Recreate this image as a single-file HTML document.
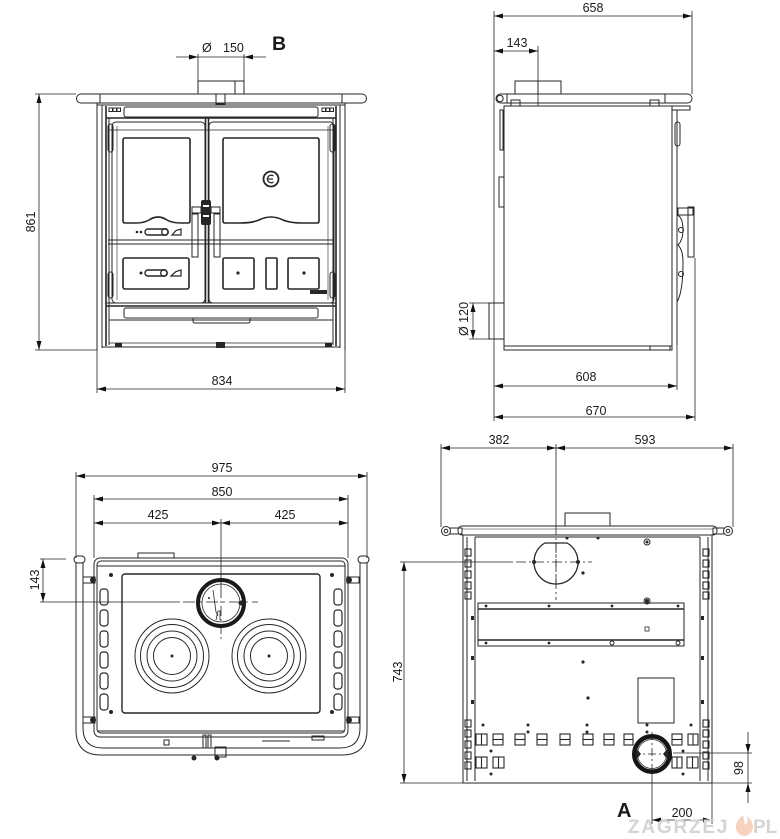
<!DOCTYPE html>
<html><head><meta charset="utf-8"><style>
html,body{margin:0;padding:0;background:#fff;}
svg{display:block;}
text{font-family:"Liberation Sans",Arial,sans-serif;fill:#1a1a1a;}
</style></head><body>
<svg width="780" height="839" viewBox="0 0 780 839" xmlns="http://www.w3.org/2000/svg">
<defs>
<marker id="ar" viewBox="0 0 9 5" refX="9" refY="2.5" markerWidth="9" markerHeight="5" markerUnits="userSpaceOnUse" orient="auto-start-reverse"><path d="M0,0L9,2.5L0,5z" fill="#111"/></marker>
</defs>
<rect width="780" height="839" fill="#fff"/>

<!-- ================= DIMENSIONS ================= -->
<g stroke="#222" stroke-width="0.8" fill="none">
 <line x1="176" y1="57" x2="266" y2="57"/>
 <line x1="198" y1="54" x2="198" y2="81"/>
 <line x1="244" y1="54" x2="244" y2="81"/>
 <line x1="39" y1="94" x2="39" y2="350" marker-start="url(#ar)" marker-end="url(#ar)"/>
 <line x1="35" y1="94" x2="76" y2="94"/>
 <line x1="35" y1="350" x2="97" y2="350"/>
 <line x1="97" y1="389" x2="345" y2="389" marker-start="url(#ar)" marker-end="url(#ar)"/>
 <line x1="97" y1="350" x2="97" y2="393"/>
 <line x1="345" y1="350" x2="345" y2="393"/>

 <line x1="494" y1="16" x2="692" y2="16" marker-start="url(#ar)" marker-end="url(#ar)"/>
 <line x1="494" y1="11" x2="494" y2="421"/>
 <line x1="692" y1="11" x2="692" y2="94"/>
 <line x1="494" y1="51" x2="538" y2="51" marker-start="url(#ar)" marker-end="url(#ar)"/>
 <line x1="538" y1="46" x2="538" y2="106"/>
 <line x1="473" y1="303" x2="473" y2="339" marker-start="url(#ar)" marker-end="url(#ar)"/>
 <line x1="469" y1="303" x2="489" y2="303"/>
 <line x1="469" y1="339" x2="489" y2="339"/>
 <line x1="494" y1="386" x2="677" y2="386" marker-start="url(#ar)" marker-end="url(#ar)"/>
 <line x1="677" y1="110" x2="677" y2="390"/>
 <line x1="494" y1="417" x2="695" y2="417" marker-start="url(#ar)" marker-end="url(#ar)"/>
 <line x1="695" y1="258" x2="695" y2="421"/>

 <line x1="76" y1="476" x2="367" y2="476" marker-start="url(#ar)" marker-end="url(#ar)"/>
 <line x1="76" y1="472" x2="76" y2="558"/>
 <line x1="367" y1="472" x2="367" y2="558"/>
 <line x1="94" y1="499" x2="348" y2="499" marker-start="url(#ar)" marker-end="url(#ar)"/>
 <line x1="94" y1="495" x2="94" y2="558"/>
 <line x1="348" y1="495" x2="348" y2="558"/>
 <line x1="94" y1="523" x2="221" y2="523" marker-start="url(#ar)" marker-end="url(#ar)"/>
 <line x1="221" y1="523" x2="348" y2="523" marker-start="url(#ar)" marker-end="url(#ar)"/>
 <line x1="221" y1="519" x2="221" y2="588"/>
 <line x1="221" y1="588" x2="221" y2="640" stroke-dasharray="10,3,2,3"/>
 <line x1="43" y1="559" x2="43" y2="602" marker-start="url(#ar)" marker-end="url(#ar)"/>
 <line x1="40" y1="559" x2="66" y2="559"/>
 <line x1="40" y1="602" x2="180" y2="602"/>
 <line x1="183" y1="602" x2="258" y2="602" stroke-dasharray="12,4,3,4"/>

 <line x1="441" y1="448" x2="556" y2="448" marker-start="url(#ar)" marker-end="url(#ar)"/>
 <line x1="556" y1="448" x2="733" y2="448" marker-start="url(#ar)" marker-end="url(#ar)"/>
 <line x1="441" y1="444" x2="441" y2="527"/>
 <line x1="733" y1="444" x2="733" y2="527"/>
 <line x1="556" y1="444" x2="556" y2="525"/>
 <line x1="556" y1="525" x2="556" y2="600" stroke-dasharray="10,3,2,3"/>
 <line x1="404" y1="562" x2="404" y2="783" marker-start="url(#ar)" marker-end="url(#ar)"/>
 <line x1="400" y1="562" x2="513" y2="562"/>
 <line x1="516" y1="562" x2="592" y2="562" stroke-dasharray="10,3,2,3"/>
 <line x1="400" y1="783" x2="463" y2="783"/>
 <line x1="748" y1="732" x2="748" y2="803"/>
 <line x1="673" y1="753" x2="752" y2="753"/>
 <line x1="712" y1="783" x2="752" y2="783"/>
 <line x1="652" y1="820" x2="712" y2="820" marker-start="url(#ar)" marker-end="url(#ar)"/>
 <line x1="652" y1="772" x2="652" y2="824"/>
 <line x1="712" y1="783" x2="712" y2="824"/>
 <line x1="652" y1="732" x2="652" y2="772" stroke-dasharray="8,3,2,3"/>
 <line x1="632" y1="754" x2="672" y2="754" stroke-dasharray="8,3,2,3"/>
</g>
<path d="M189,54.5L198,57L189,59.5z M253,54.5L244,57L253,59.5z M745.5,744L748,753L750.5,744z M745.5,792L748,783L750.5,792z" fill="#111"/>

<!-- ================= FRONT VIEW ================= -->
<g fill="none" stroke="#262626" stroke-width="1">
 <rect x="198" y="81" width="46" height="13"/>
 <line x1="235" y1="81" x2="235" y2="94"/>
 <rect x="76.5" y="94" width="290" height="9" rx="4.5"/>
 <line x1="100" y1="94" x2="100" y2="103"/>
 <line x1="342" y1="94" x2="342" y2="103"/>
 <rect x="216" y="94" width="9" height="10"/>
 <line x1="97" y1="105" x2="345" y2="105"/>
 <line x1="97" y1="103" x2="97" y2="350"/>
 <line x1="345" y1="103" x2="345" y2="350"/>
 <line x1="102" y1="105" x2="102" y2="348"/>
 <line x1="340" y1="105" x2="340" y2="348"/>
 <line x1="106" y1="106" x2="106" y2="346" stroke-width="1.6"/>
 <line x1="336" y1="106" x2="336" y2="346" stroke-width="1.6"/>
 <line x1="102" y1="347" x2="340" y2="347"/>
 <rect x="109" y="108" width="3.5" height="3.5"/><rect x="113" y="108" width="3.5" height="3.5"/><rect x="117" y="108" width="3.5" height="3.5"/>
 <rect x="322" y="108" width="3.5" height="3.5"/><rect x="326" y="108" width="3.5" height="3.5"/><rect x="330" y="108" width="3.5" height="3.5"/>
 <rect x="124" y="107" width="194" height="10" rx="2"/>
 <line x1="106" y1="118" x2="336" y2="118" stroke-width="1.6"/>
 <line x1="108" y1="130" x2="334" y2="130" stroke-width="0.7"/>
 <line x1="109" y1="118" x2="109" y2="345"/>
 <line x1="333" y1="118" x2="333" y2="345"/>
 <rect x="112" y="122" width="93" height="181" rx="4"/>
 <rect x="209" y="122" width="125" height="181" rx="4"/>
 <line x1="117" y1="126" x2="117" y2="300" stroke-width="0.6"/>
 <line x1="328" y1="126" x2="328" y2="300" stroke-width="0.6"/>
 <line x1="205.5" y1="118" x2="205.5" y2="303" stroke-width="1.6"/>
 <line x1="208.5" y1="118" x2="208.5" y2="303" stroke-width="1.6"/>
 <rect x="108" y="124" width="5" height="28" rx="2.5"/>
 <rect x="330" y="124" width="5" height="28" rx="2.5"/>
 <rect x="108" y="272" width="5" height="26" rx="2.5"/>
 <rect x="330" y="272" width="5" height="26" rx="2.5"/>
 <path d="M125,138 H188 Q190,138 190,140 V221 Q190,223 188,223 H181 Q172,223 167,220 Q158,214 149,220 Q144,223 136,223 H125 Q123,223 123,221 V140 Q123,138 125,138 Z" stroke-width="1.6"/>
 <path d="M225,138 H317 Q319,138 319,140 V221 Q319,223 317,223 H302 Q290,223 283,220 Q271,214 259,220 Q252,223 240,223 H225 Q223,223 223,221 V140 Q223,138 225,138 Z" stroke-width="1.6"/>
 <circle cx="271" cy="179" r="7.5" stroke-width="1.8"/>
 <path d="M273.5,176 A3.8,3.8 0 1 0 273.5,182" stroke-width="1.3"/>
 <line x1="267.5" y1="179" x2="273" y2="179" stroke-width="1.2"/>
 <rect x="145" y="229" width="23" height="6" rx="3" stroke-width="1.4"/>
 <circle cx="165" cy="232" r="3.3" stroke-width="1.3"/>
 <path d="M172,235 H181 V229 L176,230.5 Z" stroke-width="1.2"/>
 <line x1="108" y1="240" x2="334" y2="240"/>
 <line x1="108" y1="244" x2="334" y2="244"/>
 <rect x="192" y="214" width="6" height="43"/>
 <rect x="214" y="214" width="6" height="43"/>
 <rect x="192" y="207" width="9" height="6"/>
 <rect x="211" y="207" width="9" height="6"/>
 <rect x="123" y="258" width="66" height="31" rx="2" stroke-width="1.6"/>
 <rect x="145" y="270" width="22" height="6" rx="3" stroke-width="1.4"/>
 <circle cx="164" cy="273" r="3.3" stroke-width="1.3"/>
 <path d="M171,276 H181 V270 L176,271.5 Z" stroke-width="1.2"/>
 <rect x="223" y="258" width="31" height="31" rx="1.5" stroke-width="1.6"/>
 <rect x="266" y="258" width="11" height="31" rx="1" stroke-width="1.6"/>
 <rect x="288" y="258" width="31" height="31" rx="1.5" stroke-width="1.6"/>
 <line x1="106" y1="303" x2="336" y2="303"/>
 <line x1="106" y1="306" x2="336" y2="306" stroke-width="1.4"/>
 <rect x="124" y="308" width="194" height="10" rx="2"/>
 <path d="M193,318 V321 Q193,323 195,323 H248 Q250,323 250,321 V318"/>
 <line x1="109" y1="320" x2="333" y2="320"/>
 <line x1="109" y1="343" x2="333" y2="343" stroke-width="0.7"/>
</g>
<g fill="#262626">
 <rect x="201" y="200" width="10" height="25" rx="2"/>
 <circle cx="137" cy="232" r="1.3"/><circle cx="141" cy="232" r="1.3"/>
 <circle cx="141" cy="273" r="1.5"/>
 <circle cx="238" cy="273" r="1.6"/><circle cx="304" cy="273" r="1.6"/>
 <rect x="310" y="290" width="17" height="4"/>
 <rect x="115" y="343" width="7" height="4"/>
 <rect x="216" y="342" width="9" height="6"/>
 <rect x="325" y="343" width="7" height="4"/>
</g>
<rect x="203" y="205" width="6" height="2" fill="#fff"/>
<rect x="203" y="215" width="6" height="2" fill="#fff"/>

<!-- ================= SIDE VIEW ================= -->
<g fill="none" stroke="#262626" stroke-width="1">
 <rect x="515" y="81" width="46" height="13"/>
 <line x1="538" y1="81" x2="538" y2="94"/>
 <rect x="496" y="94" width="196" height="9" rx="4.5"/>
 <circle cx="500" cy="98.5" r="3.2"/>
 <line x1="507" y1="94" x2="507" y2="103"/>
 <line x1="665" y1="94" x2="665" y2="103"/>
 <rect x="511" y="100" width="9" height="6"/>
 <rect x="650" y="100" width="9" height="6"/>
 <rect x="672" y="106" width="18" height="4"/>
 <rect x="504" y="106" width="168" height="244"/>
 <line x1="504" y1="346" x2="672" y2="346"/>
 <rect x="650" y="346" width="20" height="4"/>
 <rect x="500" y="110" width="3" height="40"/>
 <rect x="499" y="177" width="5" height="30"/>
 <line x1="677" y1="110" x2="677" y2="345"/>
 <rect x="675" y="122" width="5" height="24" rx="2.5"/>
 <rect x="688" y="207" width="6" height="50"/>
 <rect x="678" y="208" width="15" height="7"/>
 <circle cx="681" cy="230" r="2.5"/>
 <circle cx="681" cy="274" r="2.5"/>
 <path d="M677,215 Q683,217 683,230 Q683,240 678,245 Q683,250 683,262 Q683,292 677,302"/>
 <rect x="489" y="303" width="15" height="36"/>
</g>

<!-- ================= TOP VIEW ================= -->
<g fill="none" stroke="#262626" stroke-width="1">
 <path d="M76,562 V730 Q76,755 101,755 H342 Q367,755 367,730 V562"/>
 <path d="M83,562 V728 Q83,748 103,748 H340 Q360,748 360,728 V562"/>
 <rect x="74" y="556" width="11" height="7" rx="3.5"/>
 <rect x="358" y="556" width="11" height="7" rx="3.5"/>
 <rect x="138" y="553" width="36" height="5"/>
 <rect x="94" y="558" width="254" height="179" rx="6"/>
 <rect x="97" y="561" width="248" height="172" rx="4"/>
 <line x1="97" y1="566" x2="345" y2="566"/>
 <line x1="97" y1="731" x2="345" y2="731"/>
 <rect x="122" y="574" width="198" height="139" rx="3" stroke-width="1.4"/>
 <circle cx="172" cy="656" r="37"/><circle cx="172" cy="656" r="31.5"/><circle cx="172" cy="656" r="25"/><circle cx="172" cy="656" r="18.5"/>
 <circle cx="269" cy="656" r="37"/><circle cx="269" cy="656" r="31.5"/><circle cx="269" cy="656" r="25"/><circle cx="269" cy="656" r="18.5"/>
 <g stroke-width="1.2">
 <rect x="100" y="589" width="8" height="16" rx="3"/><rect x="100" y="610" width="8" height="16" rx="3"/><rect x="100" y="631" width="8" height="16" rx="3"/>
 <rect x="100" y="652" width="8" height="16" rx="3"/><rect x="100" y="673" width="8" height="16" rx="3"/><rect x="100" y="694" width="8" height="16" rx="3"/>
 <rect x="334" y="589" width="8" height="16" rx="3"/><rect x="334" y="610" width="8" height="16" rx="3"/><rect x="334" y="631" width="8" height="16" rx="3"/>
 <rect x="334" y="652" width="8" height="16" rx="3"/><rect x="334" y="673" width="8" height="16" rx="3"/><rect x="334" y="694" width="8" height="16" rx="3"/>
 </g>
 <rect x="83" y="577" width="12" height="6"/>
 <rect x="83" y="717" width="12" height="6"/>
 <rect x="347" y="577" width="12" height="6"/>
 <rect x="347" y="717" width="12" height="6"/>
 <circle cx="221" cy="603" r="23" stroke="#1a1a1a" stroke-width="4"/>
 <circle cx="221" cy="603" r="19" stroke-width="0.8"/>
 <path d="M213,590 L216,612 L218,616" stroke-width="0.8"/>
 <path d="M216,620 L218,611 L220,611 L220,620" stroke-width="0.8"/>
 <rect x="164" y="740" width="5" height="5"/>
 <rect x="203" y="735" width="3" height="13"/>
 <rect x="208" y="735" width="3" height="13"/>
 <rect x="215" y="747" width="11" height="10"/>
 <line x1="262" y1="741" x2="290" y2="741"/>
 <rect x="312" y="736" width="12" height="4"/>
</g>
<g fill="#262626">
 <circle cx="111" cy="575" r="2"/><circle cx="332" cy="575" r="2"/><circle cx="111" cy="712" r="2"/><circle cx="332" cy="712" r="2"/>
 <circle cx="172" cy="656" r="1.5"/><circle cx="269" cy="656" r="1.5"/>
 <circle cx="93" cy="580" r="3"/><circle cx="93" cy="720" r="3"/><circle cx="349" cy="580" r="3"/><circle cx="349" cy="720" r="3"/>
 <circle cx="194" cy="758" r="2.5"/><circle cx="217" cy="758" r="2.5"/>
 <circle cx="241" cy="603" r="2.5"/><circle cx="209" cy="598" r="1"/>
</g>

<!-- ================= REAR VIEW ================= -->
<g fill="none" stroke="#262626" stroke-width="1">
 <rect x="565" y="513" width="45" height="13"/>
 <circle cx="446" cy="531" r="4.5"/><circle cx="446" cy="531" r="1.8"/>
 <circle cx="728" cy="531" r="4.5"/><circle cx="728" cy="531" r="1.8"/>
 <path d="M450,528 H462 V534 H450"/>
 <path d="M724,528 H713 V534 H724"/>
 <rect x="458" y="526" width="259" height="9" rx="4"/>
 <line x1="462" y1="529" x2="713" y2="529" stroke-width="0.6"/>
 <rect x="463" y="535" width="249" height="248"/>
 <line x1="467" y1="537" x2="467" y2="781"/>
 <line x1="475" y1="537" x2="475" y2="781"/>
 <line x1="700" y1="537" x2="700" y2="781"/>
 <line x1="708" y1="537" x2="708" y2="781"/>
 <line x1="475" y1="537" x2="700" y2="537"/>
 <g stroke-width="1.1">
 <rect x="465" y="549" width="6" height="7"/><rect x="465" y="560" width="6" height="7"/><rect x="465" y="571" width="6" height="7"/><rect x="465" y="582" width="6" height="7"/><rect x="465" y="592" width="6" height="7"/>
 <rect x="465" y="720" width="6" height="7"/><rect x="465" y="730" width="6" height="7"/><rect x="465" y="741" width="6" height="7"/><rect x="465" y="752" width="6" height="7"/><rect x="465" y="762" width="6" height="7"/>
 <rect x="703" y="549" width="6" height="7"/><rect x="703" y="560" width="6" height="7"/><rect x="703" y="571" width="6" height="7"/><rect x="703" y="582" width="6" height="7"/><rect x="703" y="592" width="6" height="7"/>
 <rect x="703" y="720" width="6" height="7"/><rect x="703" y="730" width="6" height="7"/><rect x="703" y="741" width="6" height="7"/><rect x="703" y="752" width="6" height="7"/><rect x="703" y="762" width="6" height="7"/>
 </g>
 <path d="M544.9,543 H567.1 A22,22 0 1 1 544.9,543 Z" stroke-width="1.3"/>
 <line x1="556" y1="543" x2="556" y2="584" stroke-width="0.8" stroke-dasharray="8,3,2,3"/>
 <rect x="478" y="603" width="206" height="43"/>
 <line x1="478" y1="609" x2="684" y2="609" stroke-width="1.6"/>
 <line x1="478" y1="640" x2="684" y2="640" stroke-width="1.6"/>
 <rect x="645" y="627" width="4" height="4" stroke-width="0.8"/>
 <circle cx="612" cy="643" r="2"/><circle cx="678" cy="643" r="2"/>
 <circle cx="647" cy="542" r="3"/>
 <circle cx="647" cy="601" r="3"/>
 <rect x="638" y="678" width="36" height="45"/>
 <g stroke-width="1.1">
 <rect x="476" y="734" width="11" height="11"/><line x1="481.5" y1="734" x2="481.5" y2="745"/>
 <rect x="493" y="734" width="10" height="11"/><line x1="493" y1="739.5" x2="503" y2="739.5"/>
 <rect x="515" y="734" width="10" height="11"/><line x1="515" y1="739.5" x2="525" y2="739.5"/>
 <rect x="537" y="734" width="10" height="11"/><line x1="537" y1="739.5" x2="547" y2="739.5"/>
 <rect x="560" y="734" width="10" height="11"/><line x1="560" y1="739.5" x2="570" y2="739.5"/>
 <rect x="583" y="734" width="10" height="11"/><line x1="583" y1="739.5" x2="593" y2="739.5"/>
 <rect x="604" y="734" width="10" height="11"/><line x1="604" y1="739.5" x2="614" y2="739.5"/>
 <rect x="624" y="734" width="9" height="11"/><line x1="624" y1="739.5" x2="633" y2="739.5"/>
 <rect x="672" y="734" width="10" height="11"/><line x1="672" y1="739.5" x2="682" y2="739.5"/>
 <rect x="688" y="734" width="10" height="11"/><line x1="693" y1="734" x2="693" y2="745"/>
 <rect x="476" y="757" width="11" height="11"/><line x1="481.5" y1="757" x2="481.5" y2="768"/>
 <rect x="493" y="757" width="11" height="11"/><line x1="498.5" y1="757" x2="498.5" y2="768"/>
 <rect x="672" y="757" width="10" height="11"/><line x1="677" y1="757" x2="677" y2="768"/>
 <rect x="687" y="757" width="11" height="11"/><line x1="692.5" y1="757" x2="692.5" y2="768"/>
 </g>
 <circle cx="652" cy="754" r="17.7" stroke="#151515" stroke-width="4.6"/>
 <circle cx="652" cy="754" r="14.5" stroke-width="0.7"/>
</g>
<g fill="#262626">
 <circle cx="567" cy="538" r="1.5"/><circle cx="598" cy="538" r="1.5"/>
 <circle cx="534" cy="562" r="2"/><circle cx="578" cy="562" r="2"/><circle cx="583" cy="573" r="1.6"/>
 <circle cx="647" cy="542" r="1.5"/><circle cx="647" cy="601" r="2"/>
 <circle cx="486" cy="606" r="1.4"/><circle cx="549" cy="606" r="1.4"/><circle cx="612" cy="606" r="1.4"/><circle cx="678" cy="606" r="1.4"/>
 <circle cx="486" cy="643" r="1.4"/><circle cx="549" cy="643" r="1.4"/>
 <circle cx="583" cy="662" r="1.6"/><circle cx="588" cy="698" r="1.6"/>
 <circle cx="483" cy="725" r="1.5"/><circle cx="528" cy="725" r="1.5"/><circle cx="587" cy="725" r="1.5"/><circle cx="647" cy="725" r="1.5"/><circle cx="691" cy="725" r="1.5"/>
 <circle cx="528" cy="732" r="1.5"/><circle cx="587" cy="732" r="1.5"/><circle cx="647" cy="732" r="1.5"/>
 <circle cx="491" cy="751" r="1.5"/><circle cx="491" cy="774" r="1.5"/><circle cx="683" cy="751" r="1.5"/><circle cx="683" cy="774" r="1.5"/>
 <rect x="471" y="616" width="3" height="4"/><rect x="471" y="656" width="3" height="4"/><rect x="471" y="700" width="3" height="4"/>
 <rect x="701" y="616" width="3" height="4"/><rect x="701" y="656" width="3" height="4"/><rect x="701" y="700" width="3" height="4"/>
 <path d="M636,748 L641,754 L636,760 Z"/>
 <path d="M668,748 L663,754 L668,760 Z"/>
</g>

<!-- ================= TEXT ================= -->
<g font-size="12.5">
 <text x="202" y="52">Ø</text>
 <text x="223" y="52">150</text>
 <text transform="translate(35,222) rotate(-90)" text-anchor="middle">861</text>
 <text x="222" y="385" text-anchor="middle">834</text>
 <text x="593" y="12" text-anchor="middle">658</text>
 <text x="517" y="47" text-anchor="middle">143</text>
 <text transform="translate(468,319) rotate(-90)" text-anchor="middle">Ø  120</text>
 <text x="586" y="381" text-anchor="middle">608</text>
 <text x="596" y="415" text-anchor="middle">670</text>
 <text x="222" y="472" text-anchor="middle">975</text>
 <text x="222" y="496" text-anchor="middle">850</text>
 <text x="158" y="519" text-anchor="middle">425</text>
 <text x="285" y="519" text-anchor="middle">425</text>
 <text transform="translate(39,580) rotate(-90)" text-anchor="middle">143</text>
 <text x="499" y="444" text-anchor="middle">382</text>
 <text x="645" y="444" text-anchor="middle">593</text>
 <text transform="translate(402,672) rotate(-90)" text-anchor="middle">743</text>
 <text transform="translate(743,768) rotate(-90)" text-anchor="middle">98</text>
 <text x="682" y="817" text-anchor="middle">200</text>
</g>
<text x="272" y="50" font-size="19.5" font-weight="bold" fill="#151520">B</text>
<text x="617" y="817" font-size="20" font-weight="bold" fill="#151520">A</text>

<!-- watermark -->
<g>
 <text x="628" y="833" font-size="19" font-weight="bold" style="fill:#d4d4d4" letter-spacing="1.8">ZAGRZEJ</text>
 <path d="M743,815 Q735,822 736,828 Q737,835 744,836 Q752,835 753,827 Q753,821 747,816 Q749,822 745,825 Q744,820 743,815 Z" fill="#f6d2bf"/>
 <text x="753" y="833" font-size="19" font-weight="bold" style="fill:#d4d4d4">PL</text>
</g>
</svg>
</body></html>
